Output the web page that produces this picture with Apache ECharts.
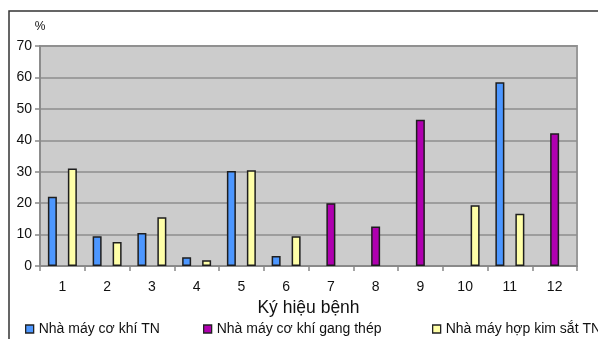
<!DOCTYPE html>
<html>
<head>
<meta charset="utf-8">
<script src="https://cdn.jsdelivr.net/npm/echarts@6/dist/echarts.min.js"></script>
<style>
  html, body { margin: 0; padding: 0; background: #ffffff; }
  #chart { width: 598px; height: 339px; }
</style>
</head>
<body>
<div id="chart"></div>
<script>
// Disease codes on the x axis
const categories = ['1', '2', '3', '4', '5', '6', '7', '8', '9', '10', '11', '12'];

// Share of workers (%) per disease code, by factory (null = no case)
const coKhiTN = [22, 9.5, 10.5, 2.8, 30.2, 3.2, null, null, null, null, 58.5, null];
const gangThep = [null, null, null, null, null, null, 20, 12.6, 46.5, null, null, 42.2];
const hopKimSat = [31, 7.6, 15.5, 1.8, 30.5, 9.5, null, null, null, 19.3, 16.6, null];

const seriesNames = ['Nhà máy cơ khí TN', 'Nhà máy cơ khí gang thép', 'Nhà máy hợp kim sắt TN'];
const seriesColors = ['#4d97ff', '#b000b0', '#ffffa8'];
const seriesData = [coKhiTN, gangThep, hopKimSat];

const chart = echarts.init(document.getElementById('chart'), null, { renderer: 'canvas' });

const font = 'Arial, "Liberation Sans", sans-serif';

chart.setOption({
  animation: false,
  backgroundColor: '#ffffff',
  textStyle: { fontFamily: font },
  graphic: [{
    type: 'rect',
    shape: { x: 9, y: 11, width: 620, height: 360 },
    style: { fill: 'none', stroke: '#333333', lineWidth: 1.5 },
    silent: true,
    z: 100
  }],
  grid: {
    left: 40, top: 46, width: 537, height: 220,
    show: true,
    backgroundColor: '#cccccc',
    borderColor: '#999999',
    borderWidth: 2
  },
  legend: seriesNames.map((n, i) => ({
    data: [n],
    left: [25, 203, 432][i],
    top: 322,
    icon: 'rect',
    itemWidth: 8,
    itemHeight: 8,
    itemGap: 4,
    itemStyle: { borderColor: '#222222', borderWidth: 1.3 },
    textStyle: { fontFamily: font, fontSize: 14, color: '#111111', padding: [0, 0, 0, 0] },
    padding: 0
  })),
  xAxis: {
    type: 'category',
    data: categories,
    boundaryGap: true,
    name: 'Ký hiệu bệnh',
    nameLocation: 'middle',
    nameGap: 33,
    nameTextStyle: { fontFamily: font, fontSize: 17.5, color: '#111111' },
    axisLine: { show: true, lineStyle: { color: '#888888', width: 1.5 } },
    axisTick: { show: true, length: 5, lineStyle: { color: '#888888', width: 1.5 } },
    axisLabel: { margin: 14, fontFamily: font, fontSize: 14, color: '#111111' },
    splitLine: { show: false }
  },
  yAxis: {
    type: 'value',
    min: 0,
    max: 70,
    interval: 10,
    name: '%',
    nameLocation: 'end',
    nameGap: 13,
    nameTextStyle: { fontFamily: font, fontSize: 12, color: '#111111', align: 'center' },
    axisLine: { show: true, lineStyle: { color: '#888888', width: 1.5 } },
    axisTick: { show: true, length: 5, lineStyle: { color: '#888888', width: 1.5 } },
    axisLabel: { margin: 8, fontFamily: font, fontSize: 14, color: '#111111' },
    splitLine: { show: true, lineStyle: { color: '#8e8e8e', width: 1.5 } }
  },
  series: seriesNames.map((n, i) => ({
    name: n,
    type: 'bar',
    data: seriesData[i],
    barWidth: 9,
    barGap: '11%',
    itemStyle: { color: seriesColors[i], borderColor: '#1e1e1e', borderWidth: 1.5 }
  }))
});
</script>
</body>
</html>
